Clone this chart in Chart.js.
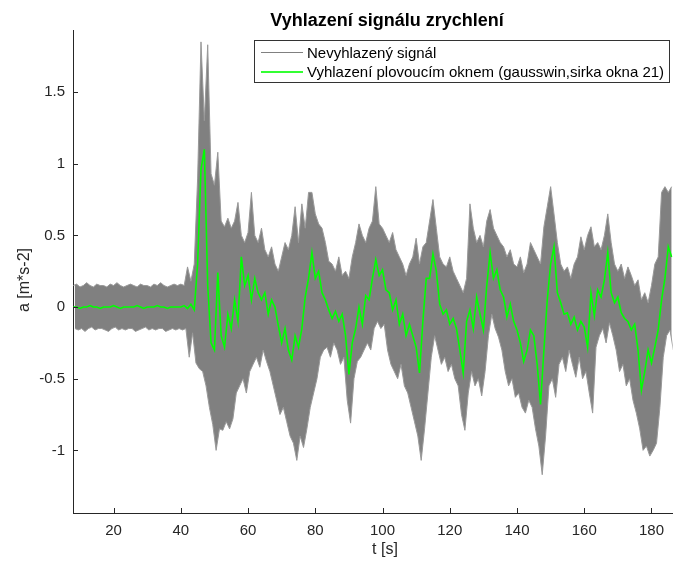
<!DOCTYPE html>
<html>
<head>
<meta charset="utf-8">
<script src="https://cdn.jsdelivr.net/npm/chart.js@4.4.1/dist/chart.umd.min.js"></script>
<style>
  body { margin: 0; background: #fff; font-family: "Liberation Sans", Arial, sans-serif; }
  #wrap { position: relative; width: 673px; height: 564px; overflow: hidden; }
  #myChart { position: absolute; left: 0; top: 0; }
  .txt { position: absolute; white-space: nowrap; color: #000; }
  #title { left: 387px; top: 11px; transform: translateX(-50%); font-size: 18px; font-weight: bold; line-height: 18px; }
  #xlabel { left: 385px; top: 541px; transform: translateX(-50%); font-size: 16px; line-height: 16px; color: #262626; }
  #ylabel { left: 24px; top: 280px; transform: translate(-50%, -50%) rotate(-90deg); font-size: 16px; line-height: 16px; color: #262626; }
  #legend { position: absolute; left: 254px; top: 40px; width: 414px; height: 41px; border: 1px solid #333; background: #fff; }
  .row { position: absolute; left: 0; height: 20px; width: 100%; }
  .sw { position: absolute; left: 6px; top: 9px; width: 42px; height: 1px; }
  .lab { position: absolute; left: 52px; top: 2px; font-size: 15px; line-height: 16px; color: #000; white-space: nowrap; }
</style>
</head>
<body>
<div id="wrap">
  <canvas id="myChart" width="673" height="564"></canvas>
  <div class="txt" id="title">Vyhlazení signálu zrychlení</div>
  <div class="txt" id="xlabel">t [s]</div>
  <div class="txt" id="ylabel">a [m*s-2]</div>
  <div id="legend">
    <div class="row" style="top:2px"><div class="sw" style="background:#808080"></div><div class="lab" id="leg1"></div></div>
    <div class="row" style="top:21px"><div class="sw" style="background:#33ff33;height:2px"></div><div class="lab" id="leg2"></div></div>
  </div>
</div>
<script>
// sampling of the read-off values: one value per second, t = 8 .. 186
const T_START = 8;
const T_STEP = 1;

const seriesNames = ['Nevyhlazený signál', 'Vyhlazení plovoucím oknem (gausswin,sirka okna 21)'];

// upper peaks of the raw signal per second
const rawUpper = [
  0.15,0.16,0.14,0.15,0.17,0.15,0.14,0.16,0.15,0.15,
  0.14,0.16,0.15,0.17,0.15,0.14,0.15,0.16,0.15,0.14,
  0.16,0.15,0.15,0.14,0.16,0.15,0.17,0.15,0.14,0.15,
  0.16,0.15,0.16,0.15,0.28,0.18,0.3,0.9,1.85,1.3,
  1.83,0.93,0.85,1.08,0.6,0.56,0.62,0.55,0.6,0.73,
  0.5,0.45,0.52,0.8,0.5,0.45,0.55,0.4,0.35,0.42,
  0.3,0.25,0.35,0.45,0.4,0.5,0.7,0.45,0.72,0.55,
  0.8,0.8,0.65,0.58,0.55,0.45,0.32,0.3,0.25,0.35,
  0.22,0.25,0.2,0.35,0.45,0.58,0.5,0.45,0.55,0.6,
  0.84,0.58,0.55,0.5,0.45,0.52,0.4,0.35,0.3,0.22,
  0.3,0.35,0.48,0.3,0.42,0.45,0.6,0.75,0.55,0.35,
  0.3,0.28,0.35,0.25,0.2,0.15,0.1,0.2,0.72,0.55,
  0.45,0.5,0.42,0.6,0.68,0.55,0.5,0.45,0.42,0.35,
  0.4,0.3,0.28,0.35,0.24,0.3,0.45,0.4,0.35,0.3,
  0.56,0.7,0.84,0.65,0.45,0.3,0.25,0.28,0.2,0.3,
  0.35,0.49,0.4,0.5,0.56,0.42,0.45,0.4,0.5,0.65,
  0.45,0.3,0.25,0.3,0.2,0.28,0.22,0.15,0.19,0.05,
  0.1,0.03,0.15,0.3,0.35,0.8,0.84,0.8,0.84
];

// lower peaks of the raw signal per second
const rawLower = [
  -0.15,-0.16,-0.15,-0.17,-0.15,-0.14,-0.16,-0.15,-0.15,-0.16,
  -0.17,-0.15,-0.14,-0.16,-0.15,-0.16,-0.15,-0.15,-0.17,-0.16,
  -0.15,-0.14,-0.16,-0.15,-0.16,-0.15,-0.15,-0.17,-0.16,-0.15,
  -0.16,-0.15,-0.16,-0.15,-0.35,-0.18,-0.39,-0.43,-0.45,-0.55,
  -0.7,-0.82,-1.0,-0.85,-0.86,-0.8,-0.85,-0.78,-0.6,-0.55,
  -0.5,-0.6,-0.45,-0.4,-0.35,-0.42,-0.3,-0.38,-0.45,-0.55,
  -0.65,-0.75,-0.7,-0.8,-0.9,-0.95,-1.07,-0.9,-0.98,-0.85,
  -0.7,-0.6,-0.5,-0.35,-0.3,-0.28,-0.35,-0.25,-0.3,-0.4,
  -0.35,-0.65,-0.81,-0.5,-0.38,-0.35,-0.3,-0.25,-0.3,-0.15,
  -0.1,-0.15,-0.12,-0.3,-0.4,-0.45,-0.5,-0.4,-0.55,-0.6,
  -0.7,-0.8,-0.9,-1.07,-0.85,-0.6,-0.35,-0.2,-0.3,-0.4,
  -0.35,-0.45,-0.4,-0.5,-0.55,-0.75,-0.86,-0.6,-0.45,-0.55,
  -0.5,-0.62,-0.45,-0.2,-0.05,-0.15,-0.21,-0.3,-0.45,-0.55,
  -0.5,-0.63,-0.6,-0.7,-0.74,-0.65,-0.7,-0.85,-0.97,-1.17,
  -0.9,-0.55,-0.5,-0.63,-0.4,-0.35,-0.45,-0.3,-0.4,-0.49,
  -0.35,-0.5,-0.45,-0.6,-0.74,-0.28,-0.2,-0.15,-0.25,-0.11,
  -0.2,-0.3,-0.45,-0.4,-0.55,-0.5,-0.65,-0.74,-0.85,-1.0,
  -0.97,-1.04,-1.0,-0.95,-0.7,-0.35,-0.2,-0.16,-0.3
];

// smoothed signal (green) per second
const smoothed = [
  0,0,-0.01,0,0,0.01,0,0,-0.01,0,
  0,0,0.01,0,-0.01,0,0,0,0,0.01,
  0,-0.01,0,0,0,0.01,0,0,-0.01,0,
  0,0,0,0.01,-0.01,0.02,-0.02,0.3,0.96,1.1,
  0.15,-0.25,-0.3,0.24,-0.2,-0.28,-0.05,-0.15,0.05,-0.1,
  0.35,0.15,0.22,0.05,0.2,0.1,0.05,0.1,-0.05,0.05,
  0,-0.13,-0.25,-0.15,-0.3,-0.37,-0.2,-0.28,-0.15,0.07,
  0.2,0.38,0.2,0.25,0.1,0.05,-0.02,-0.08,-0.03,-0.1,
  -0.05,-0.2,-0.47,-0.25,-0.15,0,-0.12,0.08,0.05,0.2,
  0.33,0.22,0.26,0.12,0.1,-0.02,0.05,-0.12,-0.05,-0.2,
  -0.12,-0.2,-0.28,-0.46,-0.1,0.2,0.2,0.37,0.25,0.02,
  -0.05,-0.02,-0.12,-0.08,-0.15,-0.3,-0.46,-0.1,-0.02,-0.15,
  0.07,-0.05,-0.16,0.15,0.38,0.2,0.26,0.12,0.07,-0.07,
  0.02,-0.1,-0.16,-0.25,-0.38,-0.3,-0.16,-0.2,-0.4,-0.68,
  -0.3,0.05,0.3,0.42,0.1,0.03,-0.05,-0.04,-0.12,-0.07,
  -0.16,-0.1,-0.14,-0.28,0.1,-0.06,0.12,0.07,0.19,0.38,
  0.1,0.03,0.07,-0.04,-0.08,-0.1,-0.16,-0.12,-0.3,-0.58,
  -0.45,-0.3,-0.39,-0.28,-0.16,0.05,0.2,0.42,0.35
];

const xTicks = [20, 40, 60, 80, 100, 120, 140, 160, 180];
const yTicks = [-1, -0.5, 0, 0.5, 1, 1.5];

document.getElementById('leg1').textContent = seriesNames[0];
document.getElementById('leg2').textContent = seriesNames[1];

// raw signal drawn as a grey band between its upper and lower peaks
let upperPts = [];
let lowerPts = [];
let smoothPts = [];
for (let i = 0; i < smoothed.length; i++) {
  const t = T_START + i * T_STEP;
  upperPts.push({x: t, y: rawUpper[i]});
  lowerPts.push({x: t + T_STEP / 2, y: rawLower[i]});
  smoothPts.push({x: t, y: smoothed[i]});
}

// matlab style ticks pointing into the plot
const innerTicks = {
  id: 'innerTicks',
  afterDraw(chart) {
    const {ctx, scales: {x, y}} = chart;
    ctx.save();
    ctx.strokeStyle = '#262626';
    ctx.lineWidth = 1;
    ctx.beginPath();
    xTicks.forEach(v => {
      const px = Math.round(x.getPixelForValue(v)) + 0.5;
      ctx.moveTo(px, y.bottom);
      ctx.lineTo(px, y.bottom - 5);
    });
    yTicks.forEach(v => {
      const py = Math.round(y.getPixelForValue(v)) + 0.5;
      ctx.moveTo(x.left, py);
      ctx.lineTo(x.left + 5, py);
    });
    ctx.stroke();
    ctx.restore();
  }
};

let chart = document.getElementById('myChart').getContext('2d');
let myChart = new Chart(chart, {
  type: 'line',
  data: {
    datasets: [{
      label: seriesNames[0],
      data: upperPts,
      borderColor: '#999999',
      borderWidth: 1,
      backgroundColor: '#808080',
      fill: '+1',
      pointRadius: 0,
      tension: 0,
      order: 3
    }, {
      label: seriesNames[0] + ' (min)',
      data: lowerPts,
      borderColor: '#999999',
      borderWidth: 1,
      pointRadius: 0,
      tension: 0,
      fill: false,
      order: 2
    }, {
      label: seriesNames[1],
      data: smoothPts,
      borderColor: '#00ff00',
      borderWidth: 1.6,
      pointRadius: 0,
      tension: 0,
      fill: false,
      order: 1
    }]
  },
  options: {
    responsive: false,
    animation: false,
    layout: { padding: { top: 30, right: 0, bottom: 0, left: 0 } },
    plugins: { legend: { display: false }, tooltip: { enabled: false }, title: { display: false } },
    scales: {
      x: {
        type: 'linear',
        min: 7.93,
        max: 186.3,
        afterFit: s => { s.height = 51; },
        grid: { display: false, drawTicks: false, tickLength: 0 },
        border: { display: true, color: '#262626', width: 1 },
        ticks: {
          stepSize: 20,
          includeBounds: false,
          padding: 9,
          maxRotation: 0,
          color: '#262626',
          font: { family: '"Liberation Sans", Arial, sans-serif', size: 15 }
        }
      },
      y: {
        type: 'linear',
        min: -1.437,
        max: 1.933,
        afterFit: s => { s.width = 73; },
        grid: { display: false, drawTicks: false, tickLength: 0 },
        border: { display: true, color: '#262626', width: 1 },
        ticks: {
          stepSize: 0.5,
          includeBounds: false,
          padding: 8,
          color: '#262626',
          font: { family: '"Liberation Sans", Arial, sans-serif', size: 15 },
          callback: v => String(+v.toFixed(2))
        }
      }
    }
  },
  plugins: [innerTicks]
});
</script>
</body>
</html>
